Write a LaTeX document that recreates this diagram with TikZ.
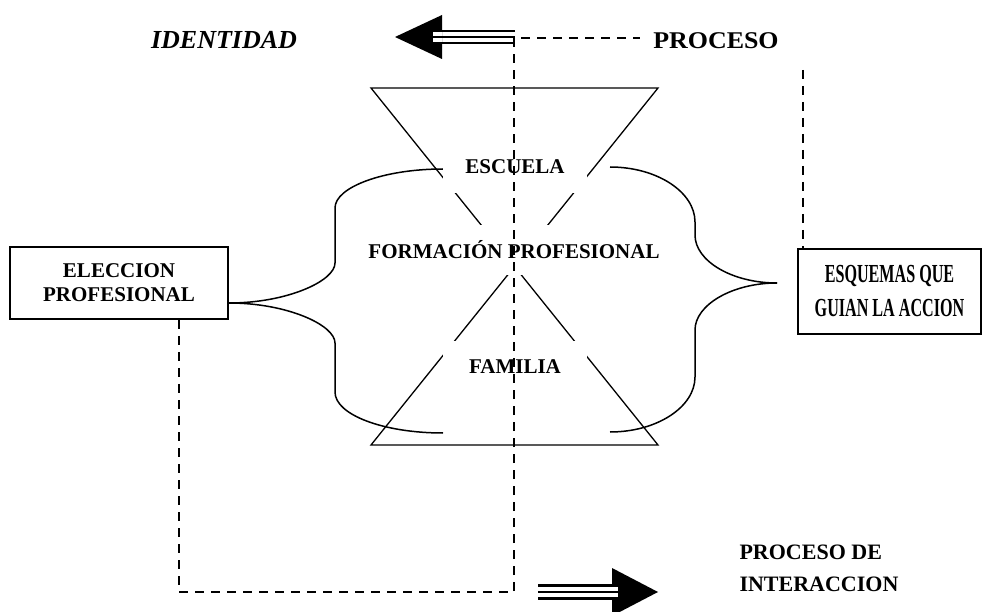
\documentclass[tikz,border=0pt]{standalone}
\usepackage{fontspec}
\setmainfont{Liberation Serif}
\usepackage{graphicx}
\newcommand{\angosto}[1]{\scalebox{0.62}[1]{#1}}
\newcommand{\ancho}[1]{\scalebox{1.08}[1]{#1}}

\begin{document}
\begin{tikzpicture}[x=1pt,y=-1pt,
    caja/.style={draw,line width=2pt,align=center,inner sep=0pt,font=\fontsize{21}{24}\selectfont\bfseries},
    rotulo/.style={fill=white,inner sep=0pt,font=\fontsize{21}{24}\selectfont\bfseries},
    traza/.style={line width=2.8pt,dash pattern=on 9pt off 7pt},
    reloj/.style={line width=1.3pt},
    llave/.style={line width=1.5pt}]
      \clip (0,0) rectangle (983,612);
      \draw
        (119,283) node[caja,minimum width=218pt,minimum height=72pt] (eleccion){ELECCION\\PROFESIONAL}
        (889.5,291.5) node[caja,minimum width=183pt,minimum height=85pt,font=\fontsize{26}{34}\selectfont\bfseries] (esquemas){\angosto{ESQUEMAS QUE}\\\angosto{GUIAN LA ACCION}};
      % reloj de arena
      \draw[reloj] (371,88) -- (658,88) -- (371,445) -- (658,445) -- cycle;
      % llaves
      \coordinate (pl) at ([yshift=-20pt]eleccion.east);
      \coordinate (pr) at (777,283);
      \draw[llave] (pl) .. controls (287,303) and (335,281) .. (335,263) -- (335,208)
        .. controls (335,187) and (384,169) .. (443,169);
      \draw[llave] (pl) .. controls (287,303) and (335,325) .. (335,343) -- (335,392)
        .. controls (335,415) and (384,433) .. (443,433);
      \draw[llave] (pr) .. controls (732,283) and (695,261) .. (695,235) -- (695,222)
        .. controls (695,192) and (657,167) .. (610,167);
      \draw[llave] (pr) .. controls (732,283) and (695,305) .. (695,330) -- (695,377)
        .. controls (695,407) and (657,432) .. (610,432);
      \draw
        (515,167) node[rotulo,minimum width=144pt,minimum height=52pt] (escuela){ESCUELA}
        (514,250) node[rotulo,minimum width=304pt,minimum height=50pt] (formacion){FORMACIÓN PROFESIONAL}
        (515,367) node[rotulo,minimum width=144pt,minimum height=52pt] (familia){FAMILIA}
        (224,40) node[font=\fontsize{26}{30}\selectfont\bfseries\itshape] (identidad){IDENTIDAD}
        (716,41) node[font=\fontsize{24}{28}\selectfont\bfseries] (proceso){\ancho{PROCESO}}
        (736,568) node[anchor=west,align=left,font=\fontsize{22}{32}\selectfont\bfseries] (interaccion){PROCESO DE\\INTERACCION};
      % lineas de trazos
      \coordinate (d1) at (179,592);
      \coordinate (d2) at (514,592);
      \coordinate (d3) at (514,38);
      \coordinate (d4) at (640,38);
      \coordinate (d5) at (803,70);
      \draw[traza] (eleccion.south -| d1) -- (d1) -- (d2) -- (d3) -- (d4);
      \draw[traza] (d5) -- (esquemas.north -| d5);
      % flechas rayadas
      \fill (442,15) -- (395,37) -- (442,59) -- cycle;
      \foreach \y in {31,37,43} \draw[line width=2.7pt] (433,\y) -- (515,\y);
      \foreach \y in {34,40} \draw[white,line width=3.3pt] (433,\y) -- (442,\y);
      \fill (612,568) -- (658,592) -- (612,616) -- cycle;
      \foreach \y in {585.5,592,598.5} \draw[line width=2.7pt] (538,\y) -- (618,\y);
      \foreach \y in {588.75,595.25} \draw[white,line width=3.8pt] (612,\y) -- (618,\y);
    \end{tikzpicture}
\end{document}
